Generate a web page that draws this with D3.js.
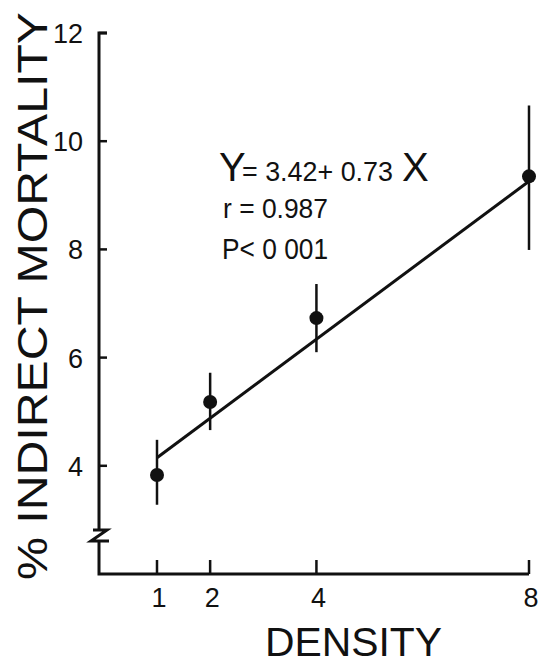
<!DOCTYPE html>
<html>
<head>
<meta charset="utf-8">
<script src="https://cdn.jsdelivr.net/npm/d3@7"></script>
<style>
body { margin: 0; background: #fff; }
text { font-family: "Liberation Sans", "DejaVu Sans", sans-serif; fill: #111; }
</style>
</head>
<body>
<div id="chart"></div>
<script>
// data
var density = [1, 2, 4, 8]
var mortality = [3.83, 5.18, 6.73, 9.35]
var errLow = [3.28, 4.66, 6.10, 7.99]
var errHigh = [4.48, 5.72, 7.36, 10.66]
var xTicks = [1, 2, 4, 8]
var yTicks = [4, 6, 8, 10, 12]
var fitX = [1, 8]
var fitY = [4.15, 9.26]

var width = 547, height = 666

var svg = d3.select("#chart")
  .append("svg")
  .attr("width", width)
  .attr("height", height)

var x = d3.scaleLinear().domain([1, 8]).range([157, 529])
var y = d3.scaleLinear().domain([2, 12]).range([574, 33])

var axisX = 99, axisY = 574
var ink = "#111"

// y axis with a break near the bottom
var brk = 530
svg.append("path")
  .attr("d", "M" + (axisX + 8) + "," + y(12) + "H" + axisX + "V" + (brk - 1) +
    "M" + (axisX - 6) + "," + brk + "H" + (axisX + 8) + "L" + (axisX - 8) + "," + (brk + 11) + "H" + (axisX + 10) +
    "M" + axisX + "," + (brk + 11) + "V" + axisY + "H" + x(8))
  .attr("fill", "none")
  .attr("stroke", ink)
  .attr("stroke-width", 3)

// y ticks (pointing inward)
svg.selectAll(".ytick")
  .data(yTicks)
  .enter()
  .append("line")
  .attr("x1", axisX)
  .attr("x2", axisX + 8)
  .attr("y1", function(d){ return y(d) })
  .attr("y2", function(d){ return y(d) })
  .attr("stroke", ink)
  .attr("stroke-width", 2.5)

svg.selectAll(".ylab")
  .data(yTicks)
  .enter()
  .append("text")
  .attr("x", 83)
  .attr("y", function(d){ return y(d) + 10 })
  .attr("text-anchor", "end")
  .style("font-size", "27px")
  .text(function(d){ return d })

// x ticks (pointing up)
svg.selectAll(".xtick")
  .data(xTicks)
  .enter()
  .append("line")
  .attr("x1", function(d){ return x(d) })
  .attr("x2", function(d){ return x(d) })
  .attr("y1", axisY)
  .attr("y2", axisY - 14)
  .attr("stroke", ink)
  .attr("stroke-width", 2.5)

svg.selectAll(".xlab")
  .data(xTicks)
  .enter()
  .append("text")
  .attr("x", function(d){ return x(d) + 2 })
  .attr("y", 607)
  .attr("text-anchor", "middle")
  .style("font-size", "27px")
  .text(function(d){ return d })

// axis titles
svg.append("text")
  .attr("x", 265)
  .attr("y", 656)
  .attr("textLength", 177)
  .attr("lengthAdjust", "spacingAndGlyphs")
  .style("font-size", "40px")
  .text("DENSITY")

svg.append("text")
  .attr("transform", "translate(47,296) rotate(-90)")
  .attr("text-anchor", "middle")
  .attr("textLength", 568)
  .attr("lengthAdjust", "spacingAndGlyphs")
  .style("font-size", "43px")
  .text("% INDIRECT MORTALITY")

// regression line
var fit = fitX.map(function(d, i){ return [d, fitY[i]] })
svg.append("path")
  .datum(fit)
  .attr("fill", "none")
  .attr("stroke", ink)
  .attr("stroke-width", 3)
  .attr("d", d3.line()
    .x(function(d){ return x(d[0]) })
    .y(function(d){ return y(d[1]) }))

// error bars
svg.selectAll(".err")
  .data(density)
  .enter()
  .append("line")
  .attr("x1", function(d){ return x(d) })
  .attr("x2", function(d){ return x(d) })
  .attr("y1", function(d, i){ return y(errLow[i]) })
  .attr("y2", function(d, i){ return y(errHigh[i]) })
  .attr("stroke", ink)
  .attr("stroke-width", 2.5)

// points
svg.selectAll(".pt")
  .data(density)
  .enter()
  .append("circle")
  .attr("cx", function(d){ return x(d) })
  .attr("cy", function(d, i){ return y(mortality[i]) })
  .attr("r", 7)
  .attr("fill", ink)

// equation
var eq = svg.append("text")
  .attr("y", 181)
  .style("font-size", "27px")
eq.append("tspan").attr("x", 219).style("font-size", "40px").text("Y")
eq.append("tspan").attr("x", 242).attr("textLength", 151).attr("lengthAdjust", "spacingAndGlyphs").text("= 3.42+ 0.73")
eq.append("tspan").attr("x", 402).style("font-size", "40px").text("X")

svg.append("text")
  .attr("x", 223)
  .attr("y", 218)
  .attr("textLength", 105)
  .attr("lengthAdjust", "spacingAndGlyphs")
  .style("font-size", "27px")
  .text("r = 0.987")

svg.append("text")
  .attr("x", 222)
  .attr("y", 259)
  .attr("textLength", 106)
  .attr("lengthAdjust", "spacingAndGlyphs")
  .style("font-size", "29px")
  .text("P< 0 001")
</script>
</body>
</html>
